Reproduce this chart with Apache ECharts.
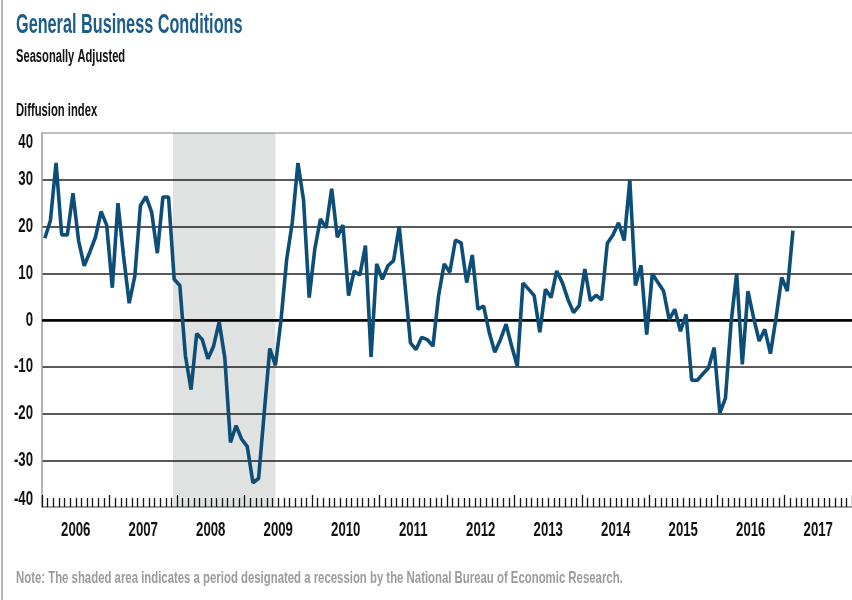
<!DOCTYPE html>
<html>
<head>
<meta charset="utf-8">
<script src="https://cdn.jsdelivr.net/npm/echarts@6/dist/echarts.min.js"></script>
<style>
  html, body { margin: 0; padding: 0; background: #fff; }
  #chart { width: 852px; height: 600px; }
</style>
</head>
<body>
<div id="chart"></div>
<script>
// General business conditions, monthly Jan 2006 - Feb 2017
const years = ['2006','2007','2008','2009','2010','2011','2012','2013','2014','2015','2016','2017'];
const yTicks = [-40, -30, -20, -10, 0, 10, 20, 30, 40];
const values = [
  17.5, 21.3, 33.6, 18.2, 18.2, 27.1, 17.0, 11.6, 14.5, 17.7, 23.2, 20.3,   // 2006
  6.9, 25.0, 13.7, 3.6, 9.4, 24.5, 26.4, 23.0, 14.3, 26.3, 26.3, 8.7,       // 2007
  7.4, -7.7, -14.9, -2.9, -4.2, -8.3, -5.6, -0.4, -8.1, -26.2, -22.6, -25.5, // 2008
  -27.1, -34.8, -33.9, -19.9, -6.1, -9.7, 0.1, 13.0, 20.9, 33.6, 25.6, 4.8,  // 2009
  15.2, 21.6, 19.7, 28.1, 17.7, 20.3, 5.2, 10.5, 9.6, 15.9, -7.9, 12.0,     // 2010
  8.7, 11.6, 12.7, 20.0, 8.0, -4.9, -6.3, -3.7, -4.2, -5.6, 5.2, 12.0,      // 2011
  10.2, 17.1, 16.5, 8.0, 13.9, 2.3, 3.0, -2.6, -6.9, -4.2, -0.9, -5.6,      // 2012
  -9.9, 7.9, 6.6, 5.2, -2.6, 6.6, 4.8, 10.5, 8.0, 4.4, 1.6, 3.1,            // 2013
  10.9, 4.1, 5.3, 4.3, 16.4, 18.2, 20.8, 17.0, 29.9, 7.4, 11.7, -3.1,       // 2014
  9.9, 8.0, 6.2, 0.1, 2.3, -2.4, 1.2, -12.9, -12.9, -11.5, -10.2, -5.9,     // 2015
  -19.9, -16.7, -0.6, 10.0, -9.5, 6.2, 0.5, -4.5, -2.0, -7.2, 0.5, 9.1,     // 2016
  6.2, 19.1                                                                 // 2017
];
// recession shading, in months since Jan 2006 (Dec 2007 - Jun 2009)
const recessionFrom = 23.3;
const recessionTo = 41.5;

const lineData = values.map((v, i) => [i + 0.5, v]);
const yMin = yTicks[0];
const yMax = yTicks[yTicks.length - 1];

const chart = echarts.init(document.getElementById('chart'));
chart.setOption({
  animation: false,
  grid: { left: 42, top: 133, right: -6, bottom: 93 },
  xAxis: {
    type: 'value',
    min: 0,
    max: years.length * 12,
    interval: 12,
    axisLine: { onZero: false, lineStyle: { color: '#999', width: 1.5 } },
    axisTick: { show: true, inside: true, length: 12, lineStyle: { color: '#111', width: 1.3 } },
    minorTick: { show: true, splitNumber: 12, length: 9, lineStyle: { color: '#111', width: 1.3 } },
    axisLabel: { show: false },
    splitLine: { show: false }
  },
  yAxis: {
    type: 'value',
    min: yMin,
    max: yMax,
    interval: 10,
    axisLine: { show: true, lineStyle: { color: '#999', width: 1.5 } },
    axisTick: { show: false },
    axisLabel: { show: false },
    splitLine: {
      lineStyle: {
        color: ['#999', '#222', '#222', '#222', '#000', '#222', '#222', '#222', '#aaa'],
        width: 1.5
      }
    }
  },
  series: [
    {
      type: 'line',
      data: lineData,
      symbol: 'none',
      lineStyle: { color: '#0c4e77', width: 3.6 },
      markArea: {
        silent: true,
        itemStyle: { color: 'rgba(0, 10, 10, 0.12)' },
        data: [[{ xAxis: recessionFrom }, { xAxis: recessionTo }]]
      },
      markLine: {
        silent: true,
        symbol: 'none',
        label: { show: false },
        lineStyle: { color: '#000', width: 2.5, type: 'solid' },
        data: [{ yAxis: 0 }]
      },
      z: 5
    }
  ]
});

// condensed tick labels, placed through the axis scales
const tickFont = 'bold 20px "Liberation Sans", sans-serif';
const tickLabels = [];
yTicks.forEach(v => {
  let py = chart.convertToPixel({ yAxisIndex: 0 }, v);
  if (v === yMax) py += 9;
  if (v === yMin) py -= 8;
  tickLabels.push({
    type: 'text', x: 33, y: py, scaleX: 0.66,
    style: { text: String(v), font: tickFont, fill: '#111', align: 'right', verticalAlign: 'middle' }
  });
});
const labelY = chart.convertToPixel({ yAxisIndex: 0 }, yMin) + 23;
years.forEach((yr, k) => {
  const px = chart.convertToPixel({ xAxisIndex: 0 }, k * 12 + 6);
  tickLabels.push({
    type: 'text', x: px, y: labelY, scaleX: 0.66,
    style: { text: yr, font: tickFont, fill: '#111', align: 'center', verticalAlign: 'middle' }
  });
});

chart.setOption({
  graphic: [
    {
      type: 'line',
      shape: { x1: 2, y1: 0, x2: 2, y2: 600 },
      style: { stroke: '#9a9a9a', lineWidth: 1.5 }
    },
    {
      type: 'text', x: 16, y: 25, scaleX: 0.58,
      style: {
        text: 'General Business Conditions',
        font: 'bold 28px "Liberation Sans", sans-serif',
        fill: '#1d5d8a', align: 'left', verticalAlign: 'middle'
      }
    },
    {
      type: 'text', x: 16, y: 57, scaleX: 0.62,
      style: {
        text: 'Seasonally Adjusted',
        font: 'bold 18px "Liberation Sans", sans-serif',
        fill: '#111', align: 'left', verticalAlign: 'middle'
      }
    },
    {
      type: 'text', x: 16, y: 111, scaleX: 0.625,
      style: {
        text: 'Diffusion index',
        font: 'bold 18px "Liberation Sans", sans-serif',
        fill: '#111', align: 'left', verticalAlign: 'middle'
      }
    },
    {
      type: 'text', x: 16, y: 578, scaleX: 0.669,
      style: {
        text: 'Note: The shaded area indicates a period designated a recession by the National Bureau of Economic Research.',
        font: 'bold 17px "Liberation Sans", sans-serif',
        fill: '#9b9b9b', align: 'left', verticalAlign: 'middle'
      }
    }
  ].concat(tickLabels)
});
</script>
</body>
</html>
